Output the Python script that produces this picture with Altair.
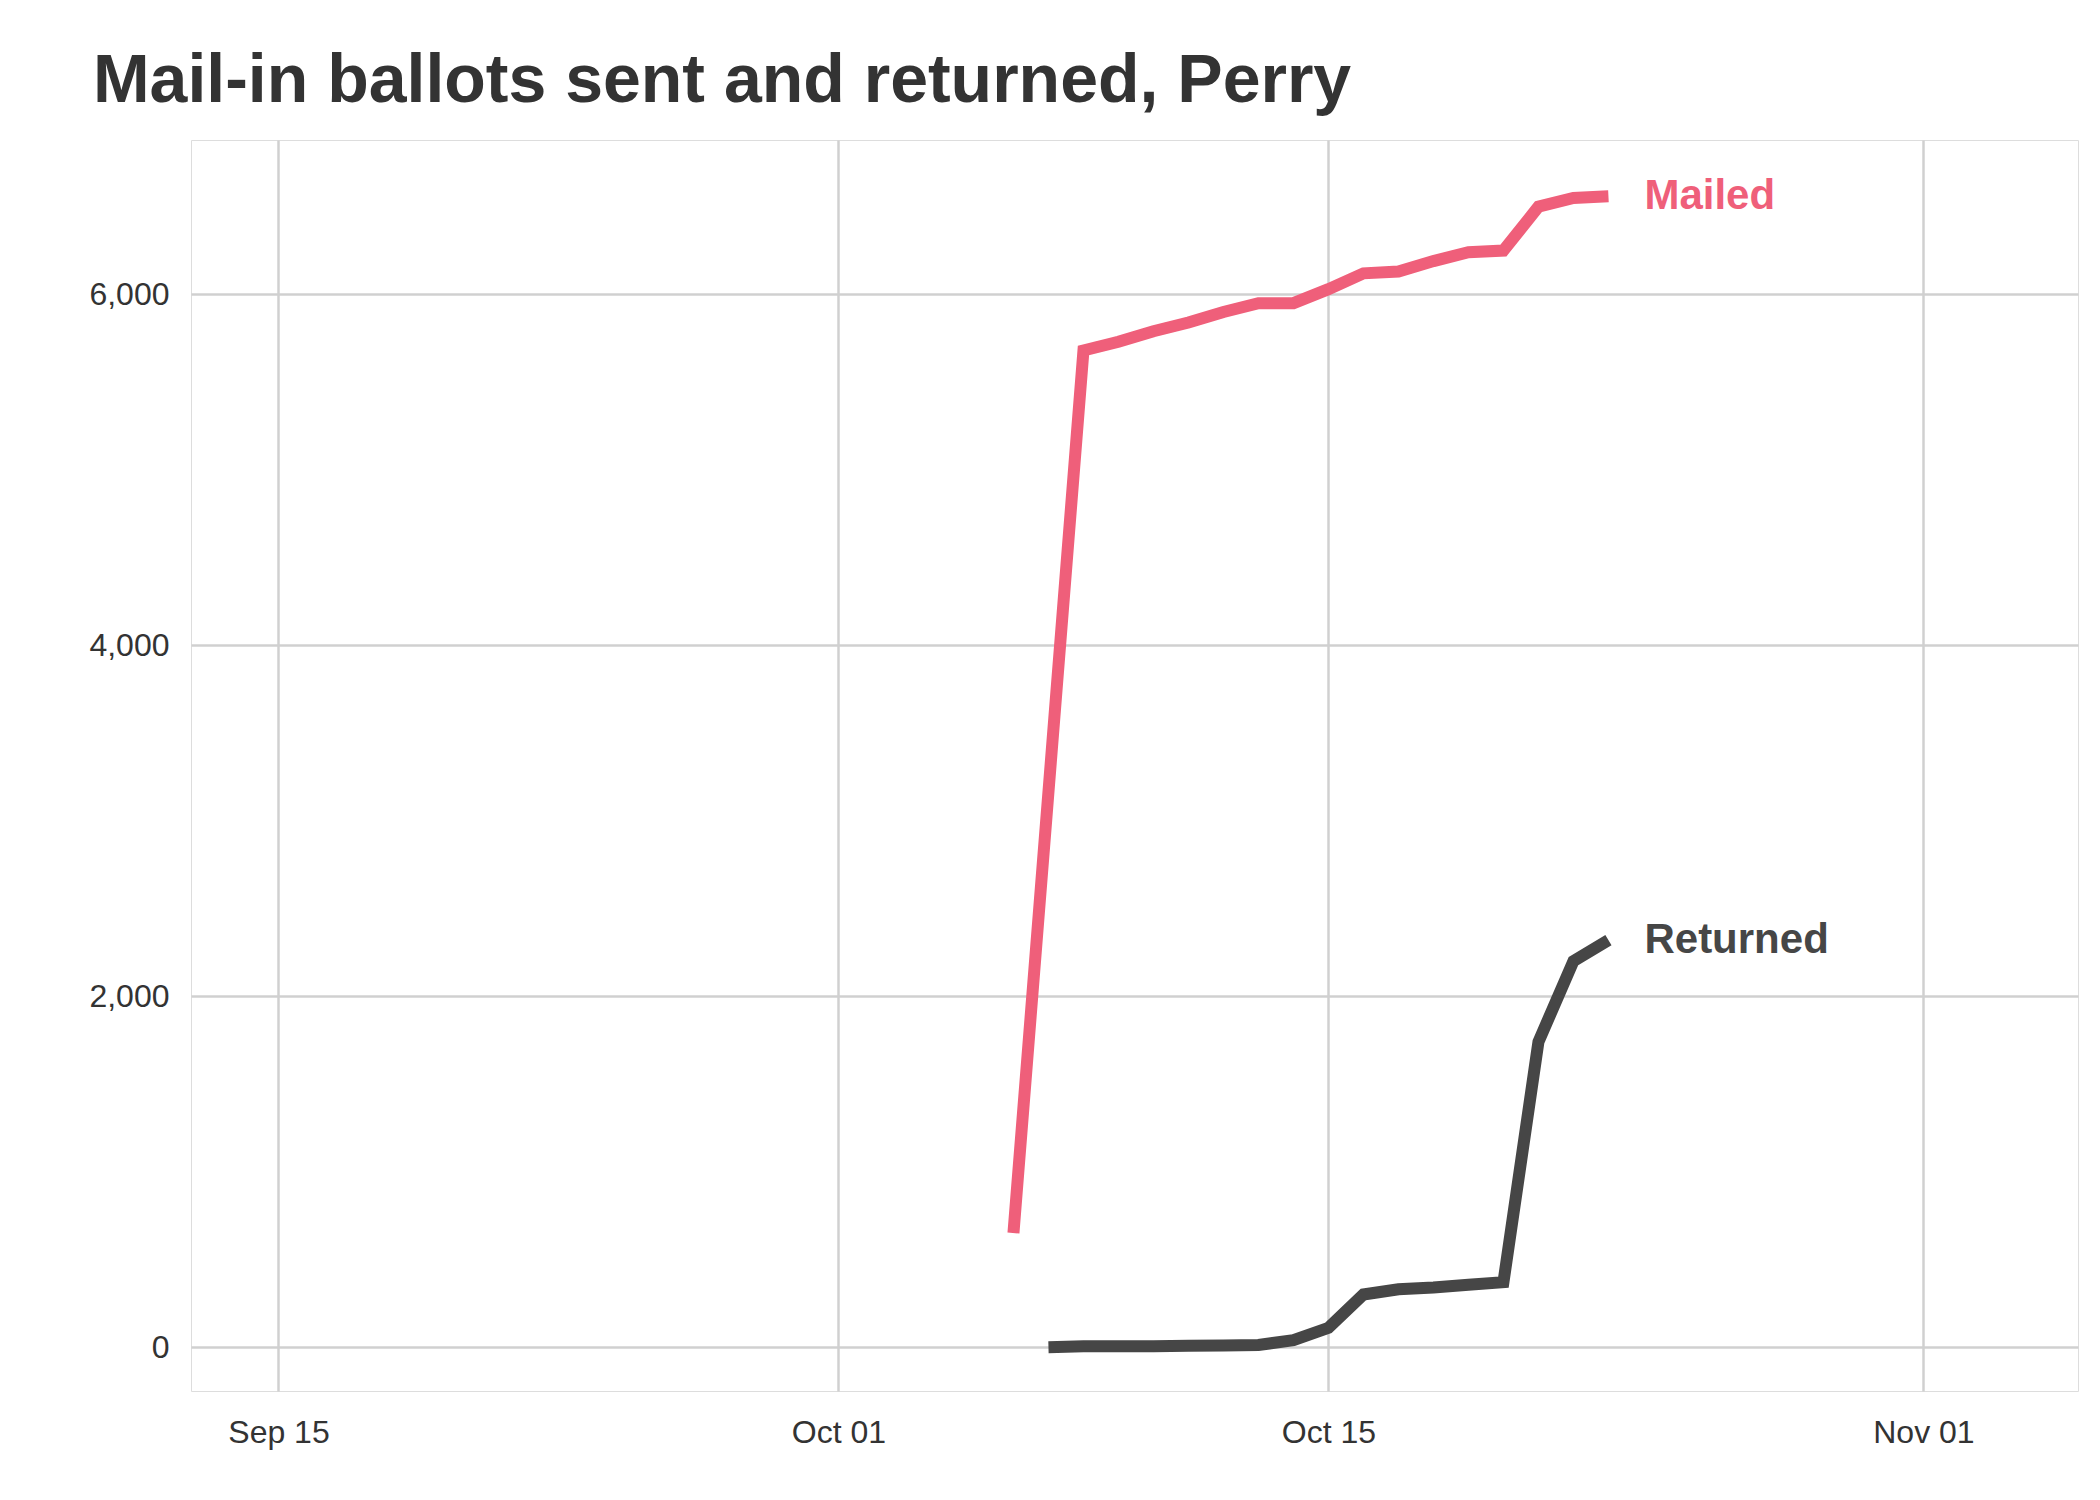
import altair as alt
import pandas as pd

mailed_dates = ["2020-10-06", "2020-10-08", "2020-10-09", "2020-10-10", "2020-10-11", "2020-10-12",
                "2020-10-13", "2020-10-14", "2020-10-15", "2020-10-16", "2020-10-17", "2020-10-18",
                "2020-10-19", "2020-10-20", "2020-10-21", "2020-10-22", "2020-10-23"]
mailed_values = [650, 5680, 5730, 5790, 5840, 5900, 5950, 5950, 6030, 6120, 6130, 6190,
                 6240, 6250, 6500, 6550, 6560]

returned_dates = ["2020-10-07", "2020-10-08", "2020-10-09", "2020-10-10", "2020-10-11", "2020-10-12",
                  "2020-10-13", "2020-10-14", "2020-10-15", "2020-10-16", "2020-10-17", "2020-10-18",
                  "2020-10-19", "2020-10-20", "2020-10-21", "2020-10-22", "2020-10-23"]
returned_values = [0, 5, 5, 5, 8, 10, 12, 40, 110, 300, 330, 340, 355, 370, 1740, 2200, 2320]

series_names = ["Mailed", "Returned"]
series_colors = ["#EF5F7A", "#464646"]

df = pd.concat([
    pd.DataFrame({"date": mailed_dates, "count": mailed_values, "series": "Mailed"}),
    pd.DataFrame({"date": returned_dates, "count": returned_values, "series": "Returned"}),
])
labels = df.groupby("series").tail(1).copy()

x = alt.X("date:T", title=None,
          scale=alt.Scale(domain=["2020-09-12T12:00", "2020-11-05T10:00"]),
          axis=alt.Axis(values=["2020-09-15T00:00", "2020-10-01T00:00", "2020-10-15T00:00", "2020-11-01T00:00"],
                        format="%b %d", labelFontSize=32, labelColor="#333333", labelPadding=26,
                        ticks=False, domain=False, gridColor="#d0d0d0", gridWidth=2.5))
y = alt.Y("count:Q", title=None,
          scale=alt.Scale(domain=[-250, 6880], nice=False),
          axis=alt.Axis(values=[0, 2000, 4000, 6000], labelExpr="format(datum.value, ',')",
                        labelFontSize=32, labelColor="#333333",
                        labelPadding=22, ticks=False, domain=False, gridColor="#d0d0d0", gridWidth=2.5))
color = alt.Color("series:N", legend=None, scale=alt.Scale(domain=series_names, range=series_colors))

lines = alt.Chart(df).mark_line(strokeWidth=12).encode(x=x, y=y, color=color)
text = alt.Chart(labels).mark_text(align="left", dx=36, fontSize=42, fontWeight="bold",
                                   font="Liberation Sans").encode(
    x="date:T", y="count:Q", text="series:N", color=color)

chart = (
    alt.layer(lines, text)
    .properties(
        width=2080, height=1480,
        autosize=alt.AutoSizeParams(type="fit", contains="padding"),
        title=alt.Title("Mail-in ballots sent and returned, Perry", fontSize=68, fontWeight="bold",
                        color="#333333", anchor="start", offset=24, font="Liberation Sans", dx=4),
    )
    .configure_view(strokeWidth=0, stroke="transparent")
    .configure_axis(labelFont="Liberation Sans")
    .configure(padding={"left": 80, "top": 40, "right": 10, "bottom": 40})
)

chart.save("out.html", embed_options={"renderer": "svg", "actions": False})
